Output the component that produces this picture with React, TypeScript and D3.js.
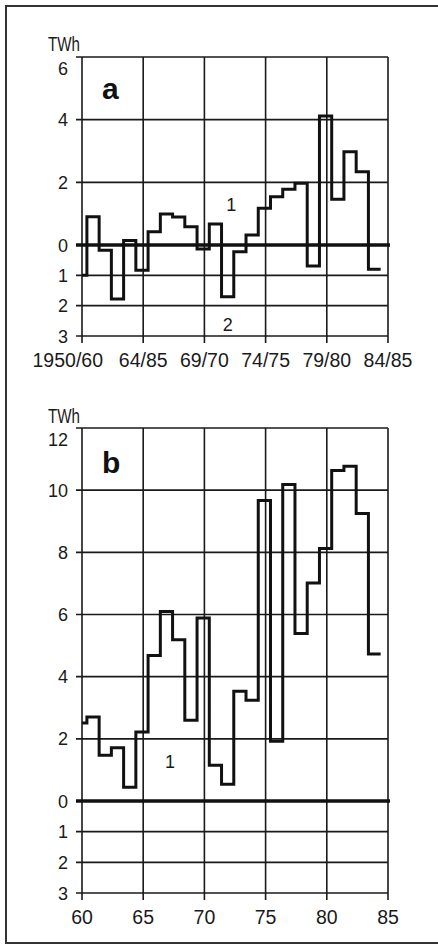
import React, { useEffect, useRef } from 'react';
import * as d3 from 'd3';

// hydrological years, each step is one season (first one is clipped at the axis)
const seasons = d3.range(1959, 1984);
const energyA = [-1.0, 0.9, -0.17, -1.78, 0.14, -0.83, 0.42, 0.99, 0.89, 0.58, -0.13, 0.67, -1.71,
  -0.22, 0.32, 1.17, 1.54, 1.78, 1.97, -0.69, 4.12, 1.46, 2.98, 2.34, -0.8];
const energyB = [2.51, 2.7, 1.47, 1.71, 0.44, 2.22, 4.68, 6.1, 5.19, 2.6, 5.89, 1.15, 0.54,
  3.53, 3.24, 9.67, 1.92, 10.18, 5.39, 7.01, 8.12, 10.63, 10.77, 9.25, 4.73];

const xTicks = [1960, 1965, 1970, 1975, 1980, 1985];
const xLabelsA = ['1950/60', '64/85', '69/70', '74/75', '79/80', '84/85'];
const xLabelsB = ['60', '65', '70', '75', '80', '85'];
const yTicksA = [6, 4, 2, 0, -1, -2, -3];
const yTicksB = [12, 10, 8, 6, 4, 2, 0, -1, -2, -3];

const W = 438;
const H = 945;
const FONT = '"Liberation Sans", Arial, sans-serif';
const SHIFT = 0.4; // step edges sit a bit after the year lines

const drawPanel = (svg, opts) => {
  const { values, yTicks, xLabels, yDomain, yRange, name, unitY, notes } = opts;
  const x = d3.scaleLinear().domain([1960, 1985]).range([82, 388]);
  const y = d3.scaleLinear().domain(yDomain).range(yRange);
  const top = y(yTicks[0]);
  const bottom = y(yTicks[yTicks.length - 1]);
  const g = svg.append('g');

  // horizontal grid with ticks
  g.selectAll('.h').data(yTicks).enter().append('line')
    .attr('x1', 76).attr('x2', x(1985))
    .attr('y1', d => y(d)).attr('y2', d => y(d))
    .attr('stroke', '#1a1a1a').attr('stroke-width', 1.6);

  // vertical grid with ticks below
  g.selectAll('.v').data(xTicks).enter().append('line')
    .attr('x1', d => x(d)).attr('x2', d => x(d))
    .attr('y1', top).attr('y2', bottom + 7)
    .attr('stroke', '#1a1a1a').attr('stroke-width', 1.6);

  // zero line
  g.append('line')
    .attr('x1', 76).attr('x2', x(1985) + 2)
    .attr('y1', y(0)).attr('y2', y(0))
    .attr('stroke', '#111').attr('stroke-width', 3.4);

  // y labels
  g.selectAll('.yl').data(yTicks).enter().append('text')
    .attr('x', 68).attr('y', d => y(d))
    .attr('dy', (d, i) => (i === 0 ? 18 : 6.5))
    .attr('text-anchor', 'end')
    .attr('font-family', FONT).attr('font-size', 18).attr('fill', '#1a1a1a')
    .text(d => Math.abs(d));

  // x labels
  g.selectAll('.xl').data(xTicks).enter().append('text')
    .attr('x', (d, i) => (i === 0 && xLabels[0].length > 4 ? x(d) + 21 : x(d)))
    .attr('y', bottom + 31)
    .attr('text-anchor', (d, i) => (i === 0 && xLabels[0].length > 4 ? 'end' : 'middle'))
    .attr('font-family', FONT).attr('font-size', 19.5).attr('fill', '#1a1a1a')
    .text((d, i) => xLabels[i]);

  // unit
  g.append('text')
    .attr('x', 48).attr('y', unitY)
    .attr('font-family', FONT).attr('font-size', 21)
    .attr('textLength', 32).attr('lengthAdjust', 'spacingAndGlyphs')
    .attr('fill', '#1a1a1a').text('TWh');

  // panel letter
  g.append('text')
    .attr('x', 102).attr('y', top + (name === 'a' ? 42 : 45))
    .attr('font-family', FONT).attr('font-weight', 'bold').attr('font-size', 30)
    .attr('fill', '#111').text(name);

  // step line
  const pts = seasons.map((s, i) => ({ t: Math.max(1960, s + SHIFT), v: values[i] }));
  pts.push({ t: seasons[seasons.length - 1] + 1 + SHIFT, v: values[values.length - 1] });
  const line = d3.line()
    .x(d => x(d.t))
    .y(d => y(d.v))
    .curve(d3.curveStepAfter);
  g.append('path')
    .datum(pts)
    .attr('d', line)
    .attr('fill', 'none')
    .attr('stroke', '#111')
    .attr('stroke-width', 3)
    .attr('stroke-linejoin', 'miter');

  // curve numbers
  g.selectAll('.note').data(notes).enter().append('text')
    .attr('x', d => x(d.t)).attr('y', d => y(d.v))
    .attr('text-anchor', 'middle')
    .attr('font-family', FONT).attr('font-size', 18).attr('fill', '#1a1a1a')
    .text(d => d.label);
};

const App = () => {
  const svgRef = useRef();

  useEffect(() => {
    const svg = d3.select(svgRef.current)
      .attr('width', W)
      .attr('height', H)
      .style('background', '#fff');

    svg.selectAll('*').remove();

    // outer frame
    svg.append('rect')
      .attr('x', 6).attr('y', 6)
      .attr('width', W + 10).attr('height', 937)
      .attr('fill', 'none').attr('stroke', '#333').attr('stroke-width', 2);

    drawPanel(svg, {
      values: energyA, yTicks: yTicksA, xLabels: xLabelsA,
      yDomain: [6, 0, -3], yRange: [57, 245, 336], name: 'a', unitY: 51,
      notes: [{ t: 1972.2, v: 1.1, label: '1' }, { t: 1971.9, v: -2.85, label: '2' }],
    });

    drawPanel(svg, {
      values: energyB, yTicks: yTicksB, xLabels: xLabelsB,
      yDomain: [12, 0, -3], yRange: [428, 801, 893], name: 'b', unitY: 423,
      notes: [{ t: 1967.2, v: 1.05, label: '1' }],
    });
  }, []);

  return (
    <svg ref={svgRef} style={{ position: 'absolute', left: 0, top: 0, display: 'block' }}></svg>
  );
};

export default App;
